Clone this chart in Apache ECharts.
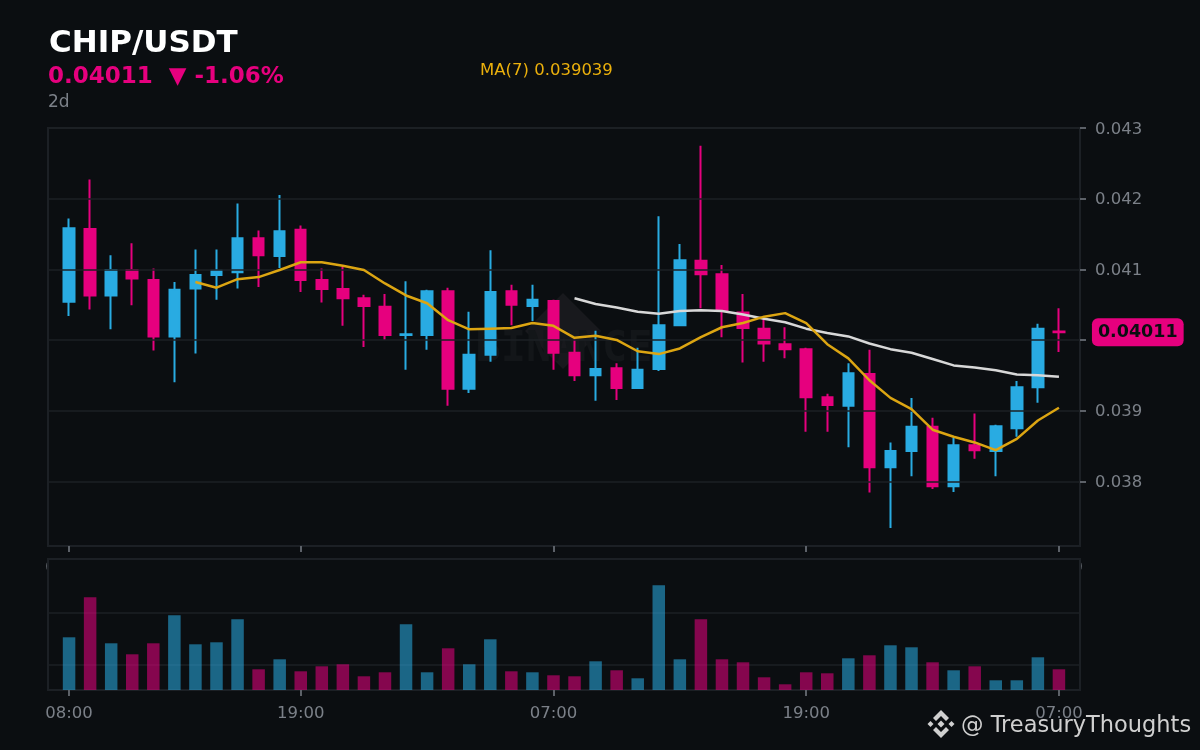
<!DOCTYPE html>
<html>
<head>
<meta charset="utf-8">
<style>html,body{margin:0;padding:0;background:#0b0e11}#c{width:1200px;height:750px}</style>
<script src="https://cdn.jsdelivr.net/npm/echarts@6/dist/echarts.min.js"></script>
</head>
<body>
<div id="c"></div>
<script>
const times = ["08:00","09:00","10:00","11:00","12:00","13:00","14:00","15:00","16:00","17:00","18:00","19:00","20:00","21:00","22:00","23:00","00:00","01:00","02:00","03:00","04:00","05:00","06:00","07:00","08:00","09:00","10:00","11:00","12:00","13:00","14:00","15:00","16:00","17:00","18:00","19:00","20:00","21:00","22:00","23:00","00:00","01:00","02:00","03:00","04:00","05:00","06:00","07:00"];
const opens = [.04054,.04157,.04063,.04099,.04085,.04005,.04073,.04092,.04096,.04144,.04119,.04156,.04085,.04072,.04059,.04047,.04007,.04007,.04069,.03931,.03979,.04069,.04048,.04055,.03982,.03950,.03960,.03932,.03959,.04021,.04112,.04093,.04039,.04016,.03994,.03987,.03919,.03907,.03952,.03820,.03843,.03877,.03793,.03851,.03843,.03875,.03933,.04012];
const closes = [.04158,.04063,.04099,.04087,.04005,.04071,.04092,.04098,.04144,.04120,.04154,.04085,.04072,.04059,.04048,.04007,.04008,.04069,.03931,.03979,.04068,.04050,.04057,.03982,.03950,.03959,.03932,.03958,.04021,.04113,.04093,.04042,.04017,.03995,.03987,.03919,.03908,.03953,.03820,.03843,.03877,.03793,.03851,.03844,.03878,.03933,.04016,.04011];
const lows = [.04034,.04043,.04015,.04049,.03985,.03940,.03981,.04057,.04073,.04075,.04102,.04068,.04053,.04020,.03990,.04000,.03958,.03986,.03907,.03925,.03969,.04021,.04027,.03958,.03942,.03914,.03915,.03931,.03956,.04020,.04045,.04004,.03968,.03969,.03974,.03870,.03870,.03848,.03784,.03734,.03807,.03789,.03785,.03832,.03807,.03863,.03911,.03983];
const highs = [.04172,.04227,.04120,.04137,.04101,.04082,.04128,.04128,.04193,.04155,.04205,.04162,.04101,.04104,.04064,.04065,.04083,.04071,.04074,.04040,.04127,.04078,.04078,.04057,.04001,.04013,.03967,.03989,.04175,.04136,.04275,.04106,.04065,.04030,.04018,.03989,.03924,.03967,.03986,.03855,.03918,.03890,.03862,.03896,.03880,.03942,.04023,.04045];
const volumes = [52.7,92.7,46.7,35.7,46.7,74.7,45.7,47.7,70.7,20.7,30.7,18.7,23.7,25.7,13.7,17.7,65.7,17.7,41.7,25.7,50.7,18.7,17.7,14.7,13.7,28.7,19.7,11.7,104.7,30.7,70.7,30.7,27.7,12.7,5.7,17.7,16.7,31.7,34.7,44.7,42.7,27.7,19.7,23.7,9.7,9.7,32.7,20.7];
const ma7 = ['-','-','-','-','-','-',.04082,.04074,.04086,.04089,.04099,.04110,.04110,.04105,.04099,.04080,.04063,.04052,.04028,.04015,.04016,.04017,.04024,.04020,.04003,.04006,.04000,.03984,.03980,.03988,.04004,.04018,.04024,.04033,.04038,.04024,.03994,.03974,.03943,.03918,.03902,.03873,.03863,.03855,.03844,.03860,.03886,.03904];
const ma25 = ['-','-','-','-','-','-','-','-','-','-','-','-','-','-','-','-','-','-','-','-','-','-','-','-',.04059,.04051,.04046,.04040,.04037,.04041,.04042,.04041,.04036,.04030,.04025,.04016,.04010,.04005,.03995,.03987,.03982,.03973,.03964,.03961,.03957,.03951,.03950,.03948];
const priceTicks = [0.038,0.039,0.040,0.041,0.042,0.043];
const volumeLines = [25.7,77.7];
const labelIndex = [1,12,24,36,48];
const lastPrice = 0.04011;

const BG='#0b0e11', UP='#29abe2', DOWN='#e6007e', GOLD='#dca512', GOLDTEXT='#ebb00c', WHITE='#d8d8d8', GRID='#1c2025', MUTED='#7b8088', TICK='#5c6168';

const cats = ['', ...times, ''];
const showIdx = (i)=>labelIndex.includes(i);
const blank = ['-','-','-','-'];
const candle = [blank, ...times.map((_,i)=>[opens[i],closes[i],lows[i],highs[i]]), blank];
const vol = ['-', ...volumes.map((v,i)=>({value:v,itemStyle:{color:closes[i]>=opens[i]?UP:DOWN}})), '-'];
const pad = a=>['-',...a,'-'];

const xBase = (grid,z,margin)=>({
  type:'category', gridIndex:grid, data:cats, boundaryGap:false, z:z,
  axisLine:{show:false},
  axisTick:{show:true,interval:showIdx,length:6,lineStyle:{color:TICK,width:2}},
  axisLabel:{show:true,interval:showIdx,hideOverlap:false,color:MUTED,fontSize:16.5,fontFamily:'DejaVu Sans',margin:margin},
  splitLine:{show:false}
});

const chart = echarts.init(document.getElementById('c'),null,{width:1200,height:750});
chart.setOption({
  animation:false,
  backgroundColor:BG,
  title:[
    {text:'CHIP/USDT',left:44,top:23,textStyle:{color:'#ffffff',fontSize:31,fontWeight:'bold',fontFamily:'DejaVu Sans'}},
    {text:'0.04011  ▼ -1.06%',left:43,top:61,textStyle:{color:DOWN,fontSize:23,fontWeight:'bold',fontFamily:'DejaVu Sans'}},
    {text:'2d',left:43,top:89,textStyle:{color:MUTED,fontSize:17,fontWeight:'normal',fontFamily:'DejaVu Sans'}},
    {text:'MA(7) 0.039039',left:475,top:57,textStyle:{color:GOLDTEXT,fontSize:16.5,fontWeight:'normal',fontFamily:'DejaVu Sans'}}
  ],
  grid:[
    {left:48,right:120,top:128,height:418,show:true,borderColor:GRID,borderWidth:2,backgroundColor:BG,z:0},
    {left:48,right:120,top:559,height:131,show:true,borderColor:GRID,borderWidth:2,backgroundColor:BG,z:2}
  ],
  xAxis:[xBase(0,1,13),xBase(1,3,15.5)],
  yAxis:[
    {type:'value',gridIndex:0,position:'right',min:0.037084,max:0.043,z:3,
     axisLine:{show:false},
     axisTick:{show:true,length:6,customValues:priceTicks,lineStyle:{color:TICK,width:2}},
     axisLabel:{show:true,customValues:priceTicks,color:MUTED,fontSize:16.5,fontFamily:'DejaVu Sans',margin:15,verticalAlign:'top',lineHeight:3,formatter:v=>v.toFixed(3)},
     splitLine:{show:true,lineStyle:{color:GRID,width:1.5}}},
    {type:'value',gridIndex:1,position:'right',min:0,max:131,z:3,
     axisLine:{show:false},
     axisTick:{show:false,customValues:volumeLines},
     axisLabel:{show:false,customValues:volumeLines},
     splitLine:{show:true,lineStyle:{color:GRID,width:1.5}}}
  ],
  graphic:{elements:[
    {type:'polygon',z:1,silent:true,shape:{points:[[563,293],[601,331],[563,369],[525,331]]},style:{fill:'#18191d'}},
    {type:'text',z:1,silent:true,x:564,y:350,style:{text:'BINANCE',fill:'#131619',font:'bold 42px "DejaVu Sans Mono"',textAlign:'center',textVerticalAlign:'middle'}},
    {type:'polygon',z:6,silent:true,shape:{points:[[941,710],[949,718],[946,721],[941,716],[936,721],[933,718]]},style:{fill:'#d0d0d0'}},
    {type:'polygon',z:6,silent:true,shape:{points:[[941,738],[949,730],[946,727],[941,732],[936,727],[933,730]]},style:{fill:'#d0d0d0'}},
    {type:'polygon',z:6,silent:true,shape:{points:[[941,720.5],[944.5,724],[941,727.5],[937.5,724]]},style:{fill:'#d0d0d0'}},
    {type:'polygon',z:6,silent:true,shape:{points:[[930.5,721],[933.5,724],[930.5,727],[927.5,724]]},style:{fill:'#d0d0d0'}},
    {type:'polygon',z:6,silent:true,shape:{points:[[951.5,721],[954.5,724],[951.5,727],[948.5,724]]},style:{fill:'#d0d0d0'}},
    {type:'text',z:6,silent:true,x:961,y:726,style:{text:'@ TreasuryThoughts',fill:'#d0d0d0',font:'22.5px "DejaVu Sans"',textAlign:'left',textVerticalAlign:'middle'}}
  ]},
  series:[
    {type:'candlestick',xAxisIndex:0,yAxisIndex:0,z:2,barWidth:11,data:candle,
     itemStyle:{color:UP,color0:DOWN,borderColor:UP,borderColor0:DOWN,borderWidth:2},
     markPoint:{silent:true,symbol:'circle',symbolSize:0,z:6,
       data:[{coord:[labelIndex[4],lastPrice],value:lastPrice}],
       label:{show:true,position:'right',distance:0,offset:[33,0],formatter:p=>p.value.toFixed(5),
         backgroundColor:DOWN,borderRadius:6,padding:[5,6,5,6],color:BG,fontSize:17.5,fontWeight:'bold',fontFamily:'DejaVu Sans'}}},
    {type:'line',xAxisIndex:0,yAxisIndex:0,z:4,data:pad(ma25),symbol:'none',lineStyle:{color:WHITE,width:2.5}},
    {type:'line',xAxisIndex:0,yAxisIndex:0,z:5,data:pad(ma7),symbol:'none',lineStyle:{color:GOLD,width:2.5}},
    {type:'bar',xAxisIndex:1,yAxisIndex:1,z:4,barWidth:12.5,data:vol,itemStyle:{opacity:0.56}}
  ]
});
</script>
</body>
</html>
